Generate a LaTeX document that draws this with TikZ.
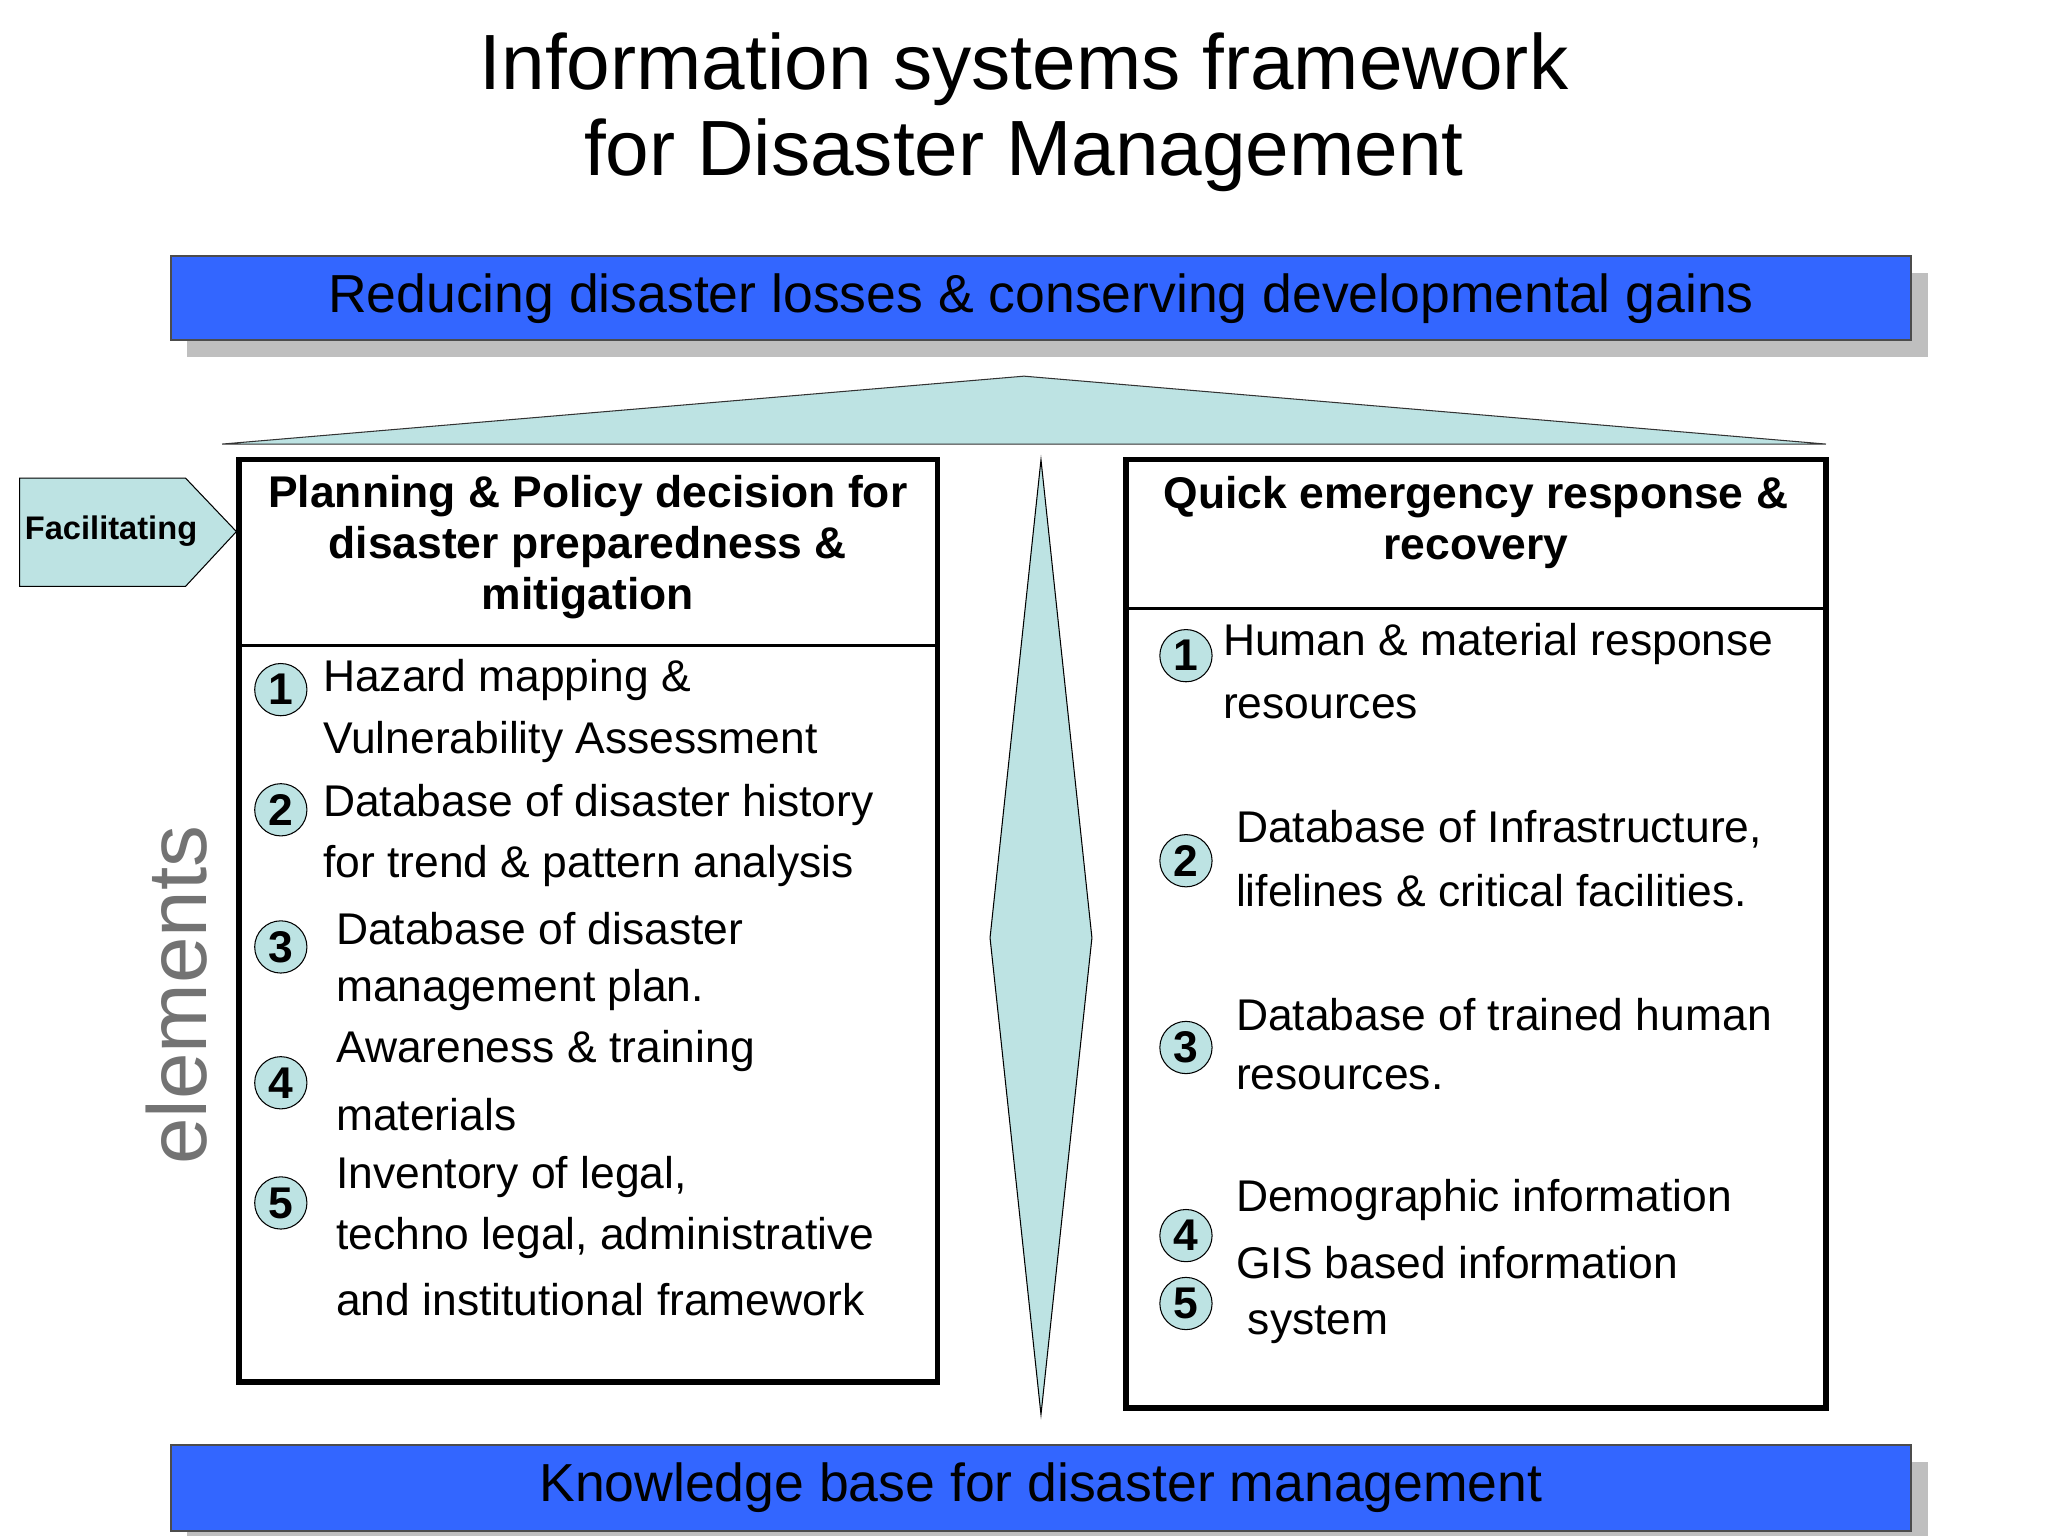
\documentclass[tikz,border=0pt]{standalone}
\usepackage{fontspec}
\setmainfont{Liberation Sans}
\definecolor{barblue}{HTML}{3366FF}
\definecolor{lcyan}{HTML}{BDE3E3}
\begin{document}
\begin{tikzpicture}[x=0.5pt,y=-0.5pt,
  item/.style={anchor=west,inner sep=0pt,font=\fontsize{17}{20}\selectfont},
  hdr/.style={align=center,inner sep=0pt,font=\fontsize{17}{19.5}\selectfont\bfseries},
  num/.style={circle,draw,fill=lcyan,minimum size=20pt,inner sep=0pt,font=\fontsize{17}{17}\selectfont\bfseries},
  bar/.style={draw=black!70,fill=barblue,line width=0.8pt},
  shadow/.style={fill=black!25},
  frame/.style={draw,line width=2pt}]
\useasboundingbox (0,0) rectangle (1568,1176);
\fill[white] (0,0) rectangle (1568,1176);
\node[align=center,font=\fontsize{30}{33}\selectfont] (title) at (784,86) {Information systems framework\\for Disaster Management};
% top bar
\fill[shadow] (143,209) rectangle (1476,273);
\draw[bar] (131,196) rectangle (1463,260);
\node[font=\fontsize{20.5}{22}\selectfont] (top) at (797,229) {Reducing disaster losses \& conserving developmental gains};
% roof
\draw[fill=lcyan,draw=black!80] (170,340) -- (784,288) -- (1398,340) -- cycle;
% facilitating
\draw[fill=lcyan] (15,366) -- (142,366) -- (181,407) -- (142,449) -- (15,449) -- cycle;
\node[font=\fontsize{12.5}{14}\selectfont\bfseries] (fac) at (85,407) {Facilitating};
% elements
\node[rotate=90,text=black!55,font=\fontsize{32}{34}\selectfont] (el) at (135,762) {elements};
% diamond
\draw[fill=lcyan] (797,352) -- (836,718) -- (797,1083) -- (758,718) -- cycle;
% left box
\draw[frame] (183,352) rectangle (718,1058);
\draw[line width=1.2pt] (183,494) -- (718,494);
\node[hdr] (lh) at (450,419) {Planning \& Policy decision for\\disaster preparedness \&\\mitigation};
\foreach \y/\n in {528/1,620/2,725/3,829/4,921/5} \node[num] (l\n) at (215,\y) {\n};
\node[item] at (247,521) {Hazard mapping \&};
\node[item] at (247,568) {Vulnerability Assessment};
\node[item] at (247,616) {Database of disaster history};
\node[item] at (247,663) {for trend \& pattern analysis};
\node[item] at (257,711) {Database of disaster};
\node[item] at (257,758) {management plan.};
\node[item] at (257,805) {Awareness \& training};
\node[item] at (257,853) {materials};
\node[item] at (257,901) {Inventory of legal,};
\node[item] at (257,948) {techno legal, administrative};
\node[item] at (257,995) {and institutional framework};
% right box
\draw[frame] (862,352) rectangle (1398,1078);
\draw[line width=1.2pt] (862,466) -- (1398,466);
\node[hdr] (rh) at (1130,400) {Quick emergency response \&\\recovery};
\foreach \y/\n in {502/1,659/2,802/3,946/4,998/5} \node[num] (r\n) at (908,\y) {\n};
\node[item] at (936,493) {Human \& material response};
\node[item] at (936,541) {resources};
\node[item] at (946,635) {Database of Infrastructure,};
\node[item] at (946,682) {lifelines \& critical facilities.};
\node[item] at (946,777) {Database of trained human};
\node[item] at (946,825) {resources.};
\node[item] at (946,919) {Demographic information};
\node[item] at (946,967) {GIS based information};
\node[item] at (955,1014) {system};
% bottom bar
\fill[shadow] (143,1119) rectangle (1476,1185);
\draw[bar] (131,1106) rectangle (1463,1172);
\node[font=\fontsize{20.5}{22}\selectfont] (bot) at (797,1139) {Knowledge base for disaster management};
\end{tikzpicture}
\end{document}
